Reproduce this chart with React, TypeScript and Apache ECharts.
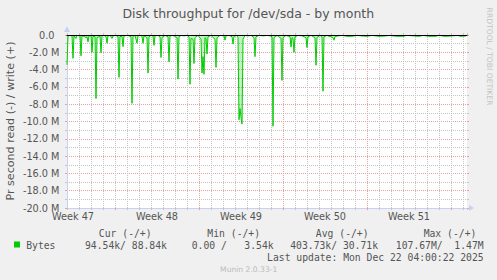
import React, { useEffect, useRef } from 'react';
import * as echarts from 'echarts';

// ---------- text ----------
const TITLE = 'Disk throughput for /dev/sda - by month';
const Y_TITLE = 'Pr second read (-) / write (+)';
const WATERMARK_SIDE = 'RRDTOOL / TOBI OETIKER';
const WATERMARK_FOOT = 'Munin 2.0.33-1';
const LAST_UPDATE = 'Last update: Mon Dec 22 04:00:22 2025';

// ---------- x axis (one unit = one 2-hour sample, 12 per day) ----------
const X_MIN = 0;
const X_MAX = 400;
const DAY = 12;
const weekBoundaries = [48, 132, 216, 300, 384];
const weekLabelAt = [6, 90, 174, 258, 342];
const weekNames = ['Week 47', 'Week 48', 'Week 49', 'Week 50', 'Week 51'];

// ---------- y axis ----------
const Y_MIN = -20e6;
const Y_MAX = 0;
const Y_MAJOR = 2e6;
const Y_MINOR = 1e6;

// ---------- read series (negative = read), sample index and value in M ----------
const readT = [
  0, 1, 3, 5, 6, 7, 9, 10, 13, 14, 15, 17, 19, 20, 21, 22, 24, 25, 26, 28,
  29, 30, 33, 34, 35, 37, 39, 40, 41, 43, 45, 46, 49, 51, 52, 53, 55, 56, 57, 60,
  62, 64, 65, 66, 68, 70, 71, 73, 75, 76, 77, 80, 81, 82, 84, 86, 87, 88, 91, 93,
  94, 95, 98, 101, 102, 103, 106, 110, 111, 112, 114, 117, 120, 122, 123, 124, 126, 127, 128, 131,
  134, 135, 136, 137, 138, 139, 140, 141, 144, 148, 149, 150, 153, 157, 158, 159, 162, 165, 166, 167,
  170, 171, 172, 173, 174, 175, 176, 178, 181, 184, 187, 188, 189, 192, 196, 200, 203, 205, 206, 207,
  210, 214, 215, 216, 219, 223, 224, 225, 226, 227, 228, 231, 235, 239, 240, 241, 244, 248, 249, 250,
  253, 255, 256, 257, 260, 262, 264, 266, 267, 268, 271, 275, 280, 285, 290, 296, 300, 305, 312, 318,
  322, 330, 336, 340, 346, 352, 356, 362, 368, 372, 378, 384, 390, 394, 399,
];
const readM = [
  -3.45, -0.15, -0.05, -0.1, -2.7, -0.1, -0.4, -0.05, -0.1, -2.4, -0.1, -0.15, -0.3, -0.2, -0.8, -0.1, -0.1, -2.0, -0.15, -0.2,
  -7.35, -0.3, -0.15, -2.05, -0.1, -0.05, -0.2, -0.95, -0.1, -0.05, -0.4, -0.1, -0.05, -0.2, -4.9, -0.15, -0.2, -1.35, -0.1, -0.05,
  -0.1, -0.2, -7.9, -0.15, -0.05, -0.95, -0.1, -0.05, -0.15, -0.95, -0.1, -0.3, -4.4, -0.2, -0.05, -0.1, -1.2, -0.1, -0.05, -0.2,
  -2.6, -0.3, -0.05, -0.2, -3.1, -0.1, -0.05, -0.3, -5.1, -0.2, -0.05, -0.1, -0.05, -0.2, -5.7, -0.4, -0.5, -3.3, -0.3, -0.05,
  -0.5, -4.4, -2.5, -4.55, -0.3, -0.4, -2.2, -0.2, -0.05, -0.5, -3.75, -0.3, -0.05, -0.1, -0.6, -0.1, -0.05, -0.2, -1.05, -0.15,
  -0.05, -0.3, -9.8, -8.5, -9.5, -10.3, -0.5, -0.05, -0.1, -0.05, -0.3, -2.5, -0.2, -0.05, -0.1, -0.05, -0.1, -0.2, -10.55, -0.3,
  -0.05, -0.4, -5.25, -0.3, -0.05, -0.2, -1.4, -0.3, -0.4, -2.0, -0.2, -0.05, -0.1, -0.3, -1.45, -0.2, -0.05, -0.3, -3.5, -0.3,
  -0.05, -0.2, -6.5, -0.2, -0.05, -0.15, -0.2, -0.3, -0.6, -0.2, -0.1, -0.05, -0.15, -0.15, -0.05, -0.12, -0.15, -0.05, -0.15, -0.12,
  -0.05, -0.15, -0.15, -0.05, -0.1, -0.15, -0.05, -0.15, -0.15, -0.05, -0.15, -0.12, -0.05, -0.15, -0.12,
];

// ---------- legend ----------
const legendName = 'Bytes';
const legendHeaders = ['Cur (-/+)', 'Min (-/+)', 'Avg (-/+)', 'Max (-/+)'];
const legendRead = ['94.54k/', '0.00 /', '403.73k/', '107.67M/'];
const legendWrite = ['88.84k', '3.54k', '30.71k', '1.47M'];

const GREEN = '#00cc00';
const TEXT = '#555555';
const AXIS_BLUE = '#c9cff5';
const GRID_GRAY = '#c4c4c4';
const GRID_RED = '#e8a0a0';
const SANS = 'DejaVu Sans';
const MONO = 'DejaVu Sans Mono';

export default function App() {
  const ref = useRef<HTMLDivElement>(null);

  useEffect(() => {
    document.body.style.margin = '0';
    if (!ref.current) return;
    const chart = echarts.init(ref.current, undefined, { renderer: 'svg' });

    const data = readT.map((t, i) => [t, readM[i] * 1e6]);

    const headerCenters = [125.2, 233.7, 342.2, 450];
    const writeRight = [166.9, 273.6, 378, 483.6];
    const readRight = [125.95, 226.8, 337.05, 442.65];
    const monoFont = `9.72px "${MONO}"`;

    const graphic: any[] = [
      {
        type: 'text', x: 248.3, y: 13.8,
        style: { text: TITLE, fill: TEXT, font: `12.5px "${SANS}"`, textAlign: 'center', textVerticalAlign: 'middle' },
      },
      {
        type: 'text', x: 10.5, y: 121, rotation: Math.PI / 2,
        style: { text: Y_TITLE, fill: TEXT, font: `11.1px "${SANS}"`, textAlign: 'center', textVerticalAlign: 'middle' },
      },
      {
        type: 'text', x: 489.5, y: 56.5, rotation: -Math.PI / 2,
        style: { text: WATERMARK_SIDE, fill: '#c4c4c4', font: `7.6px "${SANS}"`, textAlign: 'center', textVerticalAlign: 'middle' },
      },
      {
        type: 'text', x: 248.7, y: 269.3,
        style: { text: WATERMARK_FOOT, fill: '#bbbbbb', font: `7.6px "${SANS}"`, textAlign: 'center', textVerticalAlign: 'middle' },
      },
      {
        type: 'rect', shape: { x: 14, y: 241.5, width: 6, height: 6 }, style: { fill: GREEN },
      },
      {
        type: 'text', x: 26.2, y: 245.5,
        style: { text: legendName, fill: TEXT, font: monoFont, textAlign: 'left', textVerticalAlign: 'middle' },
      },
      {
        type: 'text', x: 483.6, y: 257.5,
        style: { text: LAST_UPDATE, fill: TEXT, font: monoFont, textAlign: 'right', textVerticalAlign: 'middle' },
      },
    ];
    legendHeaders.forEach((h, i) => {
      graphic.push({
        type: 'text', x: headerCenters[i], y: 233.5,
        style: { text: h, fill: TEXT, font: monoFont, textAlign: 'center', textVerticalAlign: 'middle' },
      });
      graphic.push({
        type: 'text', x: readRight[i], y: 245.5,
        style: { text: legendRead[i], fill: TEXT, font: monoFont, textAlign: 'right', textVerticalAlign: 'middle' },
      });
      graphic.push({
        type: 'text', x: writeRight[i], y: 245.5,
        style: { text: legendWrite[i], fill: TEXT, font: monoFont, textAlign: 'right', textVerticalAlign: 'middle' },
      });
    });

    const yLabel = (v: number) => (v === 0 ? '{z|0.0}' : `${(v / 1e6).toFixed(1)} M`);

    const option: any = {
      animation: false,
      backgroundColor: '#f0f0f0',
      grid: { left: 67, top: 35, width: 400, height: 173, show: true, backgroundColor: '#ffffff', borderWidth: 0 },
      xAxis: [
        {
          type: 'value', min: X_MIN, max: X_MAX, interval: DAY, position: 'bottom',
          axisLine: {
            show: true, onZero: false, lineStyle: { color: AXIS_BLUE, width: 1 },
            symbol: ['none', 'triangle'], symbolSize: [6, 5], symbolOffset: [0, 4.5],
          },
          axisTick: { show: true, length: 2, lineStyle: { color: GRID_GRAY } },
          axisLabel: { show: false },
          splitLine: { show: true, showMinLine: false, showMaxLine: false, lineStyle: { color: GRID_GRAY, type: [1, 1], width: 1 } },
        },
        {
          type: 'value', min: X_MIN, max: X_MAX, position: 'bottom',
          axisLine: { show: false, onZero: false },
          axisTick: { show: true, length: 2, customValues: weekBoundaries, lineStyle: { color: GRID_RED } },
          axisLabel: {
            show: true, customValues: weekLabelAt, margin: 3.5,
            formatter: (v: number) => weekNames[weekLabelAt.indexOf(v)] ?? '',
            color: TEXT, fontFamily: SANS, fontSize: 9.72,
          },
          splitLine: { show: true, showMinLine: false, showMaxLine: false, lineStyle: { color: GRID_RED, type: [1, 1], width: 1 } },
        },
        {
          type: 'value', min: X_MIN, max: X_MAX, interval: DAY, position: 'top', z: 10,
          axisLine: { show: true, onZero: false, lineStyle: { color: '#000000', width: 1 } },
          axisTick: { show: true, length: 2, lineStyle: { color: GRID_GRAY } },
          axisLabel: { show: false },
          splitLine: { show: false },
        },
        {
          type: 'value', min: X_MIN, max: X_MAX, position: 'top',
          axisLine: { show: false, onZero: false },
          axisTick: { show: true, length: 2, customValues: weekBoundaries, lineStyle: { color: GRID_RED } },
          axisLabel: { show: false },
          splitLine: { show: false },
        },
      ],
      yAxis: [
        {
          type: 'value', min: Y_MIN, max: Y_MAX, interval: Y_MINOR, position: 'left',
          axisLine: { show: false, onZero: false },
          axisTick: { show: true, length: 2, lineStyle: { color: GRID_GRAY } },
          axisLabel: { show: false },
          splitLine: { show: true, showMinLine: false, showMaxLine: false, lineStyle: { color: GRID_GRAY, type: [1, 1], width: 1 } },
        },
        {
          type: 'value', min: Y_MIN, max: Y_MAX, interval: Y_MAJOR, position: 'left',
          axisLine: {
            show: true, onZero: false, lineStyle: { color: AXIS_BLUE, width: 1 },
            symbol: ['none', 'triangle'], symbolSize: [6, 6], symbolOffset: [0, 6],
          },
          axisTick: { show: true, length: 2, lineStyle: { color: GRID_RED } },
          axisLabel: {
            show: true, margin: 7.5, formatter: yLabel, color: TEXT, fontFamily: SANS, fontSize: 9.72,
            rich: { z: { padding: [0, 5, 0, 0], color: TEXT, fontFamily: SANS, fontSize: 9.72 } },
          },
          splitLine: { show: true, showMinLine: false, showMaxLine: false, lineStyle: { color: GRID_RED, type: [1, 1], width: 1 } },
        },
        {
          type: 'value', min: Y_MIN, max: Y_MAX, interval: Y_MINOR, position: 'right',
          axisLine: { show: false, onZero: false },
          axisTick: { show: true, length: 2, lineStyle: { color: GRID_GRAY } },
          axisLabel: { show: false },
          splitLine: { show: false },
        },
        {
          type: 'value', min: Y_MIN, max: Y_MAX, interval: Y_MAJOR, position: 'right',
          axisLine: { show: false, onZero: false },
          axisTick: { show: true, length: 2, lineStyle: { color: GRID_RED } },
          axisLabel: { show: false },
          splitLine: { show: false },
        },
      ],
      series: [
        {
          name: legendName, type: 'line', xAxisIndex: 0, yAxisIndex: 1, data,
          showSymbol: false, symbol: 'none', silent: true,
          lineStyle: { color: GREEN, width: 1 },
          areaStyle: { color: 'rgba(0,204,0,0.35)' },
        },
      ],
      graphic,
    };

    chart.setOption(option);
    return () => chart.dispose();
  }, []);

  return <div ref={ref} style={{ width: 497, height: 280, background: '#f0f0f0' }} />;
}
